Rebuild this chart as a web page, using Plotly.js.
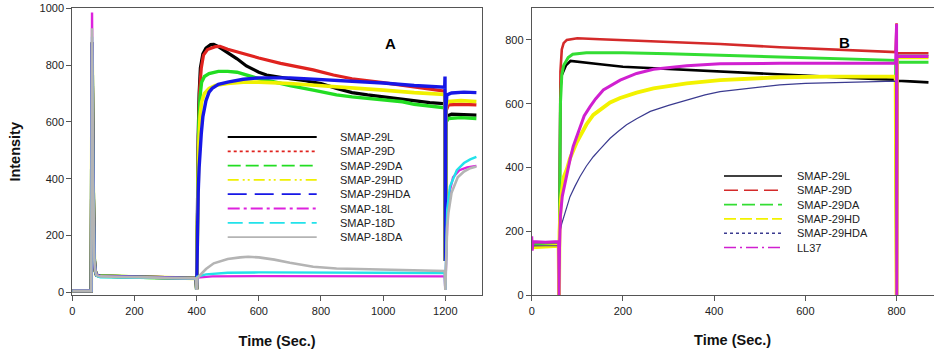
<!DOCTYPE html>
<html><head><meta charset="utf-8">
<script src="https://cdn.plot.ly/plotly-3.0.1.min.js"></script>
<style>html,body{margin:0;padding:0;background:#fff}#chart{width:934px;height:356px}</style>
</head><body><div id="chart"></div>
<script>
// ---------------- Panel A data ----------------
const namesA = ["SMAP-29L","SMAP-29D","SMAP-29DA","SMAP-29HD","SMAP-29HDA","SMAP-18L","SMAP-18D","SMAP-18DA"];
const tickValsA = [0,200,400,600,800,1000,1200];
const tickValsAy = [0,200,400,600,800,1000];

const tA_29L = [0,61,62.5,63.5,65,67,69,71,74,78,90,150,250,350,398,400,402,405,408,412,420,430,445,455,470,500,530,560,600,625,650,700,750,800,850,900,950,1000,1050,1100,1150,1198,1200,1202,1205,1220,1260,1300];
const yA_29L = [5,5,500,880,700,400,200,114,75,60,57,55,52,50,49,10,300,550,700,790,840,860,872,873,865,845,822,797,775,765,760,752,745,735,718,703,695,688,683,675,668,664,110,600,620,627,625,624];

const tA_29D = [0,61,62.5,63.5,65,67,69,71,74,78,90,150,250,350,398,400,403,406,410,415,422,435,460,475,500,560,600,670,700,775,840,900,1000,1100,1198,1200,1203,1210,1250,1300];
const yA_29D = [5,5,500,880,700,400,200,114,75,60,57,55,52,50,49,10,300,550,720,790,835,855,865,866,856,836,825,806,800,783,765,752,738,722,708,110,640,660,662,660];

const tA_29DA = [0,61,62.5,63.5,65,67,69,71,74,78,90,150,250,350,398,400,403,407,411,416,425,440,470,500,530,560,600,669,700,775,850,900,1000,1062,1100,1198,1200,1203,1210,1250,1300];
const yA_29DA = [5,5,500,880,700,400,200,114,75,60,58,55,52,50,49,10,400,600,690,740,760,770,778,778,775,765,752,736,728,712,695,688,677,671,662,650,110,600,612,615,612];

const tA_29HD = [0,61,62.5,63.5,65,67,69,71,74,78,90,150,250,350,398,400,403,407,411,416,425,440,460,500,550,600,700,800,900,1000,1100,1198,1200,1203,1210,1250,1300];
const yA_29HD = [5,5,500,880,700,400,200,114,75,60,57,55,52,50,49,10,300,520,620,670,700,718,728,735,740,740,735,728,720,712,703,697,110,660,672,675,672];

const tA_29HDA = [0,61,62.5,63.5,65,67,69,71,74,78,90,150,250,350,398,400,402,405,408,412,415,420,430,440,450,470,500,550,600,700,800,900,1000,1100,1198,1199,1200,1202,1205,1220,1260,1300];
const yA_29HDA = [5,5,500,880,700,400,200,114,75,60,57,55,52,50,49,10,200,350,440,520,560,618,675,705,718,732,740,750,755,755,750,745,737,728,722,760,110,650,695,702,705,703];

const tA_18L = [0,61,62.5,63.5,64.5,66,68,70,72,75,78,90,150,250,350,398,400,402,450,600,800,1000,1198,1200,1203,1207,1215,1225,1245,1270,1300];
const yA_18L = [5,5,500,985,800,450,220,130,90,70,60,56,54,52,50,49,8,52,56,57,57,57,56,8,180,280,360,405,430,440,445];

const tA_18D = [0,61,62.5,63.5,65,67,69,71,74,78,90,150,250,350,398,400,402,430,500,600,800,1000,1198,1200,1203,1206,1215,1237,1260,1280,1300];
const yA_18D = [5,5,500,900,700,400,200,114,75,58,53,52,51,49,48,8,55,63,69,70,69,69,68,8,200,290,372,430,455,468,477];

const tA_18DA = [0,61,62.5,63.5,65,67,69,71,74,78,90,150,250,350,398,400,402,410,430,455,500,540,566,600,650,700,775,850,990,1100,1198,1200,1203,1206,1210,1220,1240,1260,1280,1300];
const yA_18DA = [5,5,500,930,700,400,200,114,75,60,56,54,52,50,49,8,50,60,82,102,117,123,125,123,115,104,90,84,81,77,75,8,150,230,280,350,405,425,437,443];

// ---------------- Panel B data ----------------
const namesB = ["SMAP-29L","SMAP-29D","SMAP-29DA","SMAP-29HD","SMAP-29HDA","LL37"];
const tickValsB = [0,200,400,600,800];
const tickValsBy = [0,200,400,600,800];

const tB_29L = [0,30,59,60,61,63,66,75,85,100,150,200,300,400,500,544,600,700,764,798,800,801,830,870];
const yB_29L = [155,156,157,0,400,650,690,720,734,732,724,716,709,702,694,690,687,681,677,675,0,672,670,667];

const tB_29D = [0,30,59,60,61,63,66,70,77,100,150,250,413,544,650,764,798,800,800.5,801,870];
const yB_29D = [160,160,160,0,450,700,770,790,800,805,802,797,787,777,770,762,762,852,0,758,758];

const tB_29DA = [0,30,59,60,61,63,66,70,80,90,120,200,300,413,544,650,764,798,800,801,870];
const yB_29DA = [158,158,158,0,350,600,690,720,745,755,760,760,757,752,746,742,737,736,0,730,730];

const tB_29HD = [0,30,59,60,61,64,70,77,84,99,106,120,135,157,172,194,230,267,340,413,544,650,764,798,800,801,870];
const yB_29HD = [150,152,155,0,200,300,370,395,429,480,500,535,565,590,604,618,635,648,664,674,683,685,686,686,0,745,745];

const tB_29HDA = [0,30,59,60,62,66,75,84,95,106,120,135,150,172,190,208,230,260,300,340,380,413,500,544,600,700,764,798,800,801,870];
const yB_29HDA = [155,155,156,0,200,225,270,309,342,372,405,434,458,492,514,534,553,576,595,612,628,638,651,659,664,668,669,671,0,752,752];

const tB_LL37 = [0,1,3,30,59,60,61,63,67,72,77,84,91,99,106,115,128,140,157,194,230,267,340,413,544,650,764,798,800,800.5,801,870];
const yB_LL37 = [185,140,168,166,168,0,150,250,310,345,382,425,466,500,528,562,591,615,643,674,695,708,719,725,727,727,727,727,850,0,748,748];

// ---------------- styling ----------------
const W = 934, H = 356;
const px = v => v / W, py = v => 1 - v / H;
const FONT = 'Liberation Sans, Arial, Helvetica, sans-serif';

const colA = ['#000000','#e0231f','#22dd22','#f0f000','#1717e6','#dd22dd','#22e2ea','#b4b4b4'];
const widA = [3.2,3.2,3.4,3.6,3.4,2.4,2.4,2.6];
const dashLegA = ['solid','dot','13px,5px','11px,4px,2px,3px,2px,4px','19px,8px','12px,4px,3px,4px','15px,6px','solid'];

const colB = ['#000000','#d42a2a','#33dd33','#f2f200','#3b3b90','#d020d0'];
const widB = [2.6,2.6,3.0,3.8,1.2,3.0];
const dashLegB = ['solid','14px,6px','13px,5px','12px,4px','dot','12px,4px,2px,4px'];

const dataA = [[tA_29L,yA_29L],[tA_29D,yA_29D],[tA_29DA,yA_29DA],[tA_29HD,yA_29HD],[tA_29HDA,yA_29HDA],[tA_18L,yA_18L],[tA_18D,yA_18D],[tA_18DA,yA_18DA]];
const dataB = [[tB_29L,yB_29L],[tB_29D,yB_29D],[tB_29DA,yB_29DA],[tB_29HD,yB_29HD],[tB_29HDA,yB_29HDA],[tB_LL37,yB_LL37]];

const traces = [];
dataA.forEach((d,i)=>traces.push({x:d[0],y:d[1],type:'scatter',mode:'lines',name:namesA[i],
  line:{color:colA[i],width:widA[i]},xaxis:'x',yaxis:'y',hoverinfo:'skip',showlegend:false}));
dataB.forEach((d,i)=>traces.push({x:d[0],y:d[1],type:'scatter',mode:'lines',name:namesB[i],
  line:{color:colB[i],width:widB[i]},xaxis:'x2',yaxis:'y2',hoverinfo:'skip',showlegend:false}));

const shapes = [], annotations = [];
namesA.forEach((n,i)=>{
  const yy = py(137 + 14.3*i);
  shapes.push({type:'line',xref:'paper',yref:'paper',x0:px(227.7),x1:px(316.7),y0:yy,y1:yy,
    line:{color:colA[i],width:1.8,dash:dashLegA[i]}});
  annotations.push({xref:'paper',yref:'paper',x:px(338),y:yy,xanchor:'left',yanchor:'middle',
    text:n,showarrow:false,font:{family:FONT,size:11,color:'#222'}});
});
namesB.forEach((n,i)=>{
  const yy = py(176 + 14.3*i);
  shapes.push({type:'line',xref:'paper',yref:'paper',x0:px(724),x1:px(782),y0:yy,y1:yy,
    line:{color:colB[i],width:1.6,dash:dashLegB[i]}});
  annotations.push({xref:'paper',yref:'paper',x:px(795),y:yy,xanchor:'left',yanchor:'middle',
    text:n,showarrow:false,font:{family:FONT,size:11,color:'#222'}});
});
annotations.push({xref:'paper',yref:'paper',x:px(390),y:py(33),text:'A',showarrow:false,
  font:{family:FONT,size:15,color:'#000',weight:'bold'}});
annotations.push({xref:'paper',yref:'paper',x:px(852),y:py(32),text:'B',showarrow:false,
  font:{family:FONT,size:15,color:'#000',weight:'bold'}});

const axCommon = {showline:true,linecolor:'#555',linewidth:1,mirror:true,ticks:'outside',ticklen:5,
  tickcolor:'#555',tickwidth:1,showgrid:false,zeroline:false,automargin:false,
  tickfont:{family:FONT,size:11,color:'#222'}};
const titleFont = {family:FONT,size:14.5,color:'#111',weight:'bold'};
const yDom = [1-295.3/H, 1-8.3/H];

const layout = {
  width:W,height:H,margin:{l:0,r:0,t:0,b:0},showlegend:false,
  paper_bgcolor:'#fff',plot_bgcolor:'#fff',font:{family:FONT,size:11,color:'#222'},
  xaxis:Object.assign({},axCommon,{domain:[px(72.3),px(482)],range:[0,1318],tickvals:tickValsA,anchor:'y',
    title:{text:'Time (Sec.)',font:titleFont,standoff:20}}),
  yaxis:Object.assign({},axCommon,{domain:yDom,range:[-10.6,1000],tickvals:tickValsAy,anchor:'x',
    title:{text:'Intensity',font:titleFont,standoff:15}}),
  xaxis2:Object.assign({},axCommon,{domain:[px(531.7),px(933.5)],range:[0,881],tickvals:tickValsB,anchor:'y2',
    title:{text:'Time (Sec.)',font:titleFont,standoff:19}}),
  yaxis2:Object.assign({},axCommon,{domain:yDom,range:[0,899],tickvals:tickValsBy,anchor:'x2'}),
  shapes:shapes,annotations:annotations
};
Plotly.newPlot('chart',traces,layout,{staticPlot:true,displayModeBar:false});
</script></body></html>
